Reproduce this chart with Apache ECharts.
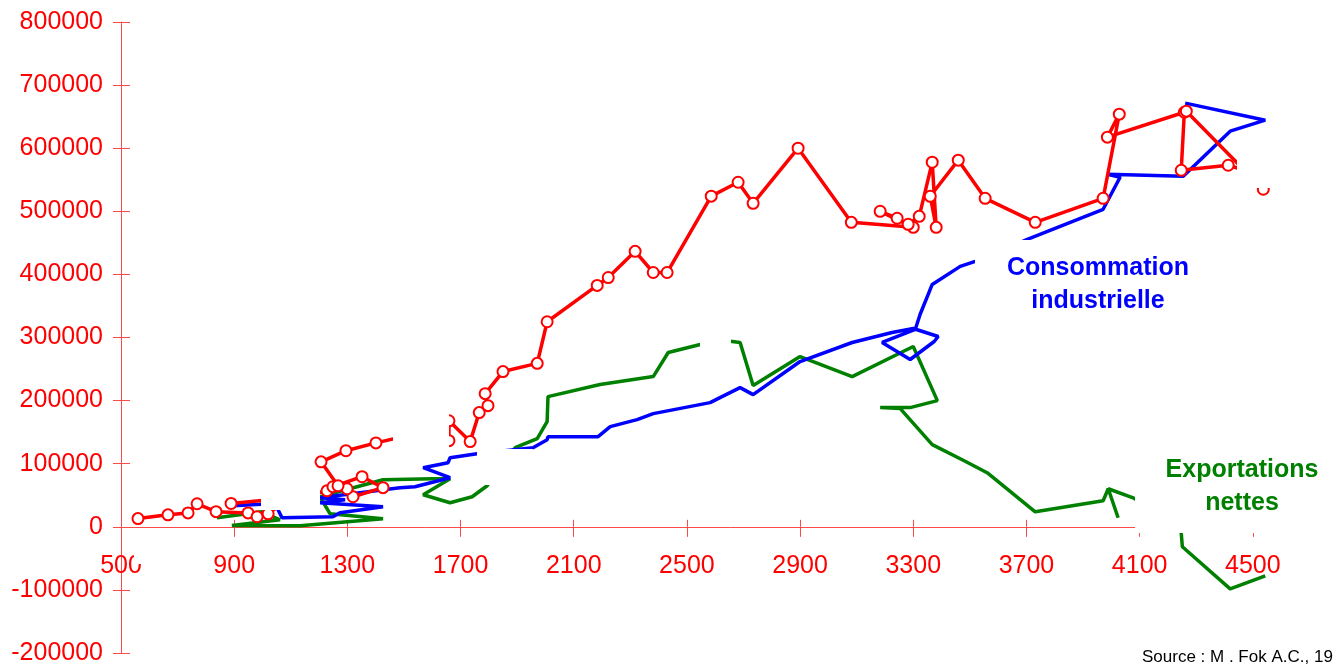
<!DOCTYPE html>
<html>
<head>
<meta charset="utf-8">
<script src="https://cdn.jsdelivr.net/npm/echarts/dist/echarts.min.js"></script>
<style>
html,body{margin:0;padding:0;background:#fff}
#chart{width:1339px;height:666px}
</style>
</head>
<body>
<div id="chart"></div>
<script>
// Production (tonnes), connected in chronological order
const production = [
  [560,13000],[666,19000],[737,22000],[769,36500],[836,24000],[949,22000],[981,16000],
  [1020,20600],[1097,46000],[889,37000],[1133,47600],[1228,57000],[1249,63500],
  [1352,79400],[1426,62000],[1320,47600],[1299,60300],[1267,65000],[1207,103000],
  [1295,120600],[1401,133000],[1557,149000],[1659,136500],[1659,168000],[1734,135000],
  [1766,181000],[1797,192000],[1787,211000],[1850,246000],[1971,259000],[2006,325000],
  [2183,382500],[2222,395000],[2317,436500],[2381,403000],[2430,403000],[2586,524000],
  [2681,546000],[2734,512700],[2893,600000],[3081,482500],[3300,474600],[3183,500000],
  [3243,489000],[3282,479400],[3321,492000],[3367,577800],[3381,474600],[3360,523800],
  [3459,581000],[3554,520600],[3731,482500],[3971,520600],[4028,654000],[3986,617500],
  [4258,657000],[4247,565000],[4413,573000],[4484,563500],[4537,535000],[4491,555500],
  [4265,658700]
];

// Consommation industrielle (tonnes)
const consommation = [
  [896,33500],[1044,37000],[1069,14300],[1249,15900],[1274,22200],[1426,31700],
  [1203,38100],[1292,42900],[1203,46000],[1486,61900],[1539,63500],[1663,77800],
  [1568,93700],[1656,101600],[1663,109500],[1758,115900],[1956,125400],[2006,138100],
  [2009,142900],[2186,142900],[2229,158700],[2324,169800],[2381,179400],[2582,196800],
  [2617,204800],[2688,220600],[2734,209500],[2900,261900],[3084,292100],[3225,307900],
  [3300,314300],[3388,301600],[3374,293700],[3289,265100],[3190,292100],[3307,312700],
  [3324,336500],[3367,384100],[3466,412700],[3519,420600],[3607,436500],[3703,455600],
  [3971,503200],[4031,554000],[3986,558700],[4254,555600],[4420,627000],[4544,644400],
  [4261,671400]
];

// Exportations nettes (tonnes)
const exportations = [
  [839,14300],[998,23800],[1062,11100],[892,2000],[1133,1600],[1426,12700],[1239,20600],
  [1203,47600],[1426,74600],[1603,76200],[1663,76200],[1568,50800],[1663,38100],
  [1741,47600],[1794,65100],[1893,125400],[1971,139700],[2006,166700],[2009,206300],
  [2193,225400],[2381,238100],[2434,276200],[2547,288900],[2600,296800],[2660,293700],
  [2688,292100],[2734,223800],[2900,269800],[3084,238100],[3300,285700],[3385,200000],
  [3289,188900],[3183,188900],[3254,187300],[3367,130200],[3473,106300],[3561,85700],
  [3731,23800],[3971,41300],[3989,60300],[4024,14300],[3989,60300],[4077,46000],
  [4173,19000],[4247,-9500],[4251,-31700],[4420,-98400],[4544,-77800]
];

// Axis settings
const xMin = 500, xMax = 4900, xStep = 400;
const yMin = -200000, yMax = 800000, yStep = 100000;

const FONT = '"Liberation Sans", Arial, sans-serif';
const AXIS_RED = '#ff4a4a';

// Plot area in canvas pixels
const GRID_TOP = 22, GRID_H = 631;
// lift the x axis from the bottom edge of the plot up to the zero line
const ZERO_OFFSET = -GRID_H * (0 - yMin) / (yMax - yMin);

// White label backgrounds [x, y, w, h] in canvas pixels
const labelBoxes = [
  [261, 488, 59, 22],
  [393, 410, 56, 38],
  [477, 449, 56, 36],
  [700, 330, 31, 25],
  [975, 240, 245, 80],
  [1237, 150, 102, 38],
  [1135, 450, 204, 83],
  [134, 540, 12, 24]
];

const chart = echarts.init(document.getElementById('chart'), null, {renderer: 'canvas'});

const graphics = labelBoxes.map(b => ({
  type: 'rect', z: 100,
  shape: {x: b[0], y: b[1], width: b[2], height: b[3]},
  style: {fill: '#ffffff'}
}));
graphics.push(
  {type: 'text', z: 101, x: 1098, y: 285,
   style: {text: 'Consommation\nindustrielle', fill: '#0000ff', font: 'bold 25px ' + FONT,
           textAlign: 'center', textVerticalAlign: 'middle', lineHeight: 33}},
  {type: 'text', z: 101, x: 1242, y: 487,
   style: {text: 'Exportations\nnettes', fill: '#008000', font: 'bold 25px ' + FONT,
           textAlign: 'center', textVerticalAlign: 'middle', lineHeight: 33}},
  {type: 'text', z: 101, x: 1142, y: 657,
   style: {text: 'Source : M . Fok A.C., 19', fill: '#000000', font: '17px ' + FONT,
           textAlign: 'left', textVerticalAlign: 'middle'}}
);

const baseX = {
  type: 'value', min: xMin, max: xMax, interval: xStep,
  position: 'bottom', offset: ZERO_OFFSET,
  splitLine: {show: false}
};
const baseY = {
  type: 'value', min: yMin, max: yMax, interval: yStep,
  splitLine: {show: false}
};

chart.setOption({
  animation: false,
  backgroundColor: '#ffffff',
  grid: {left: 121, top: GRID_TOP, height: GRID_H, right: -27, containLabel: false, outerBoundsMode: 'none'},
  xAxis: [
    Object.assign({}, baseX, {
      axisLine: {show: true, onZero: false, lineStyle: {color: AXIS_RED, width: 1}},
      axisTick: {length: 10, lineStyle: {color: AXIS_RED, width: 1}},
      axisLabel: {color: '#ff0000', fontSize: 25, fontFamily: FONT, margin: 27,
                  showMaxLabel: false, formatter: v => String(v)}
    }),
    Object.assign({}, baseX, {
      axisLine: {show: false, onZero: false},
      axisTick: {inside: true, length: 7, lineStyle: {color: AXIS_RED, width: 1}},
      axisLabel: {show: false}
    })
  ],
  yAxis: [
    Object.assign({}, baseY, {
      axisLine: {show: true, onZero: false, lineStyle: {color: AXIS_RED, width: 1}},
      axisTick: {show: true, length: 8, lineStyle: {color: AXIS_RED, width: 1}},
      axisLabel: {color: '#ff0000', fontSize: 25, fontFamily: FONT, margin: 18,
                  formatter: v => String(v)}
    }),
    Object.assign({}, baseY, {
      position: 'left',
      axisLine: {show: false, onZero: false},
      axisTick: {show: true, inside: true, length: 9, lineStyle: {color: AXIS_RED, width: 1}},
      axisLabel: {show: false}
    })
  ],
  series: [
    {
      name: 'Exportations nettes', type: 'line', data: exportations,
      xAxisIndex: 0, yAxisIndex: 0, showSymbol: false, symbol: 'none',
      lineStyle: {color: '#008000', width: 3.5}, z: 2
    },
    {
      name: 'Consommation industrielle', type: 'line', data: consommation,
      xAxisIndex: 0, yAxisIndex: 0, showSymbol: false, symbol: 'none',
      lineStyle: {color: '#0000ff', width: 3.5}, z: 3
    },
    {
      name: 'Production', type: 'line', data: production,
      xAxisIndex: 0, yAxisIndex: 0, symbol: 'circle', symbolSize: 11, showSymbol: true,
      itemStyle: {color: '#ffffff', borderColor: '#ff0000', borderWidth: 2},
      lineStyle: {color: '#ff0000', width: 3.5}, z: 4
    }
  ],
  graphic: graphics
});
</script>
</body>
</html>
